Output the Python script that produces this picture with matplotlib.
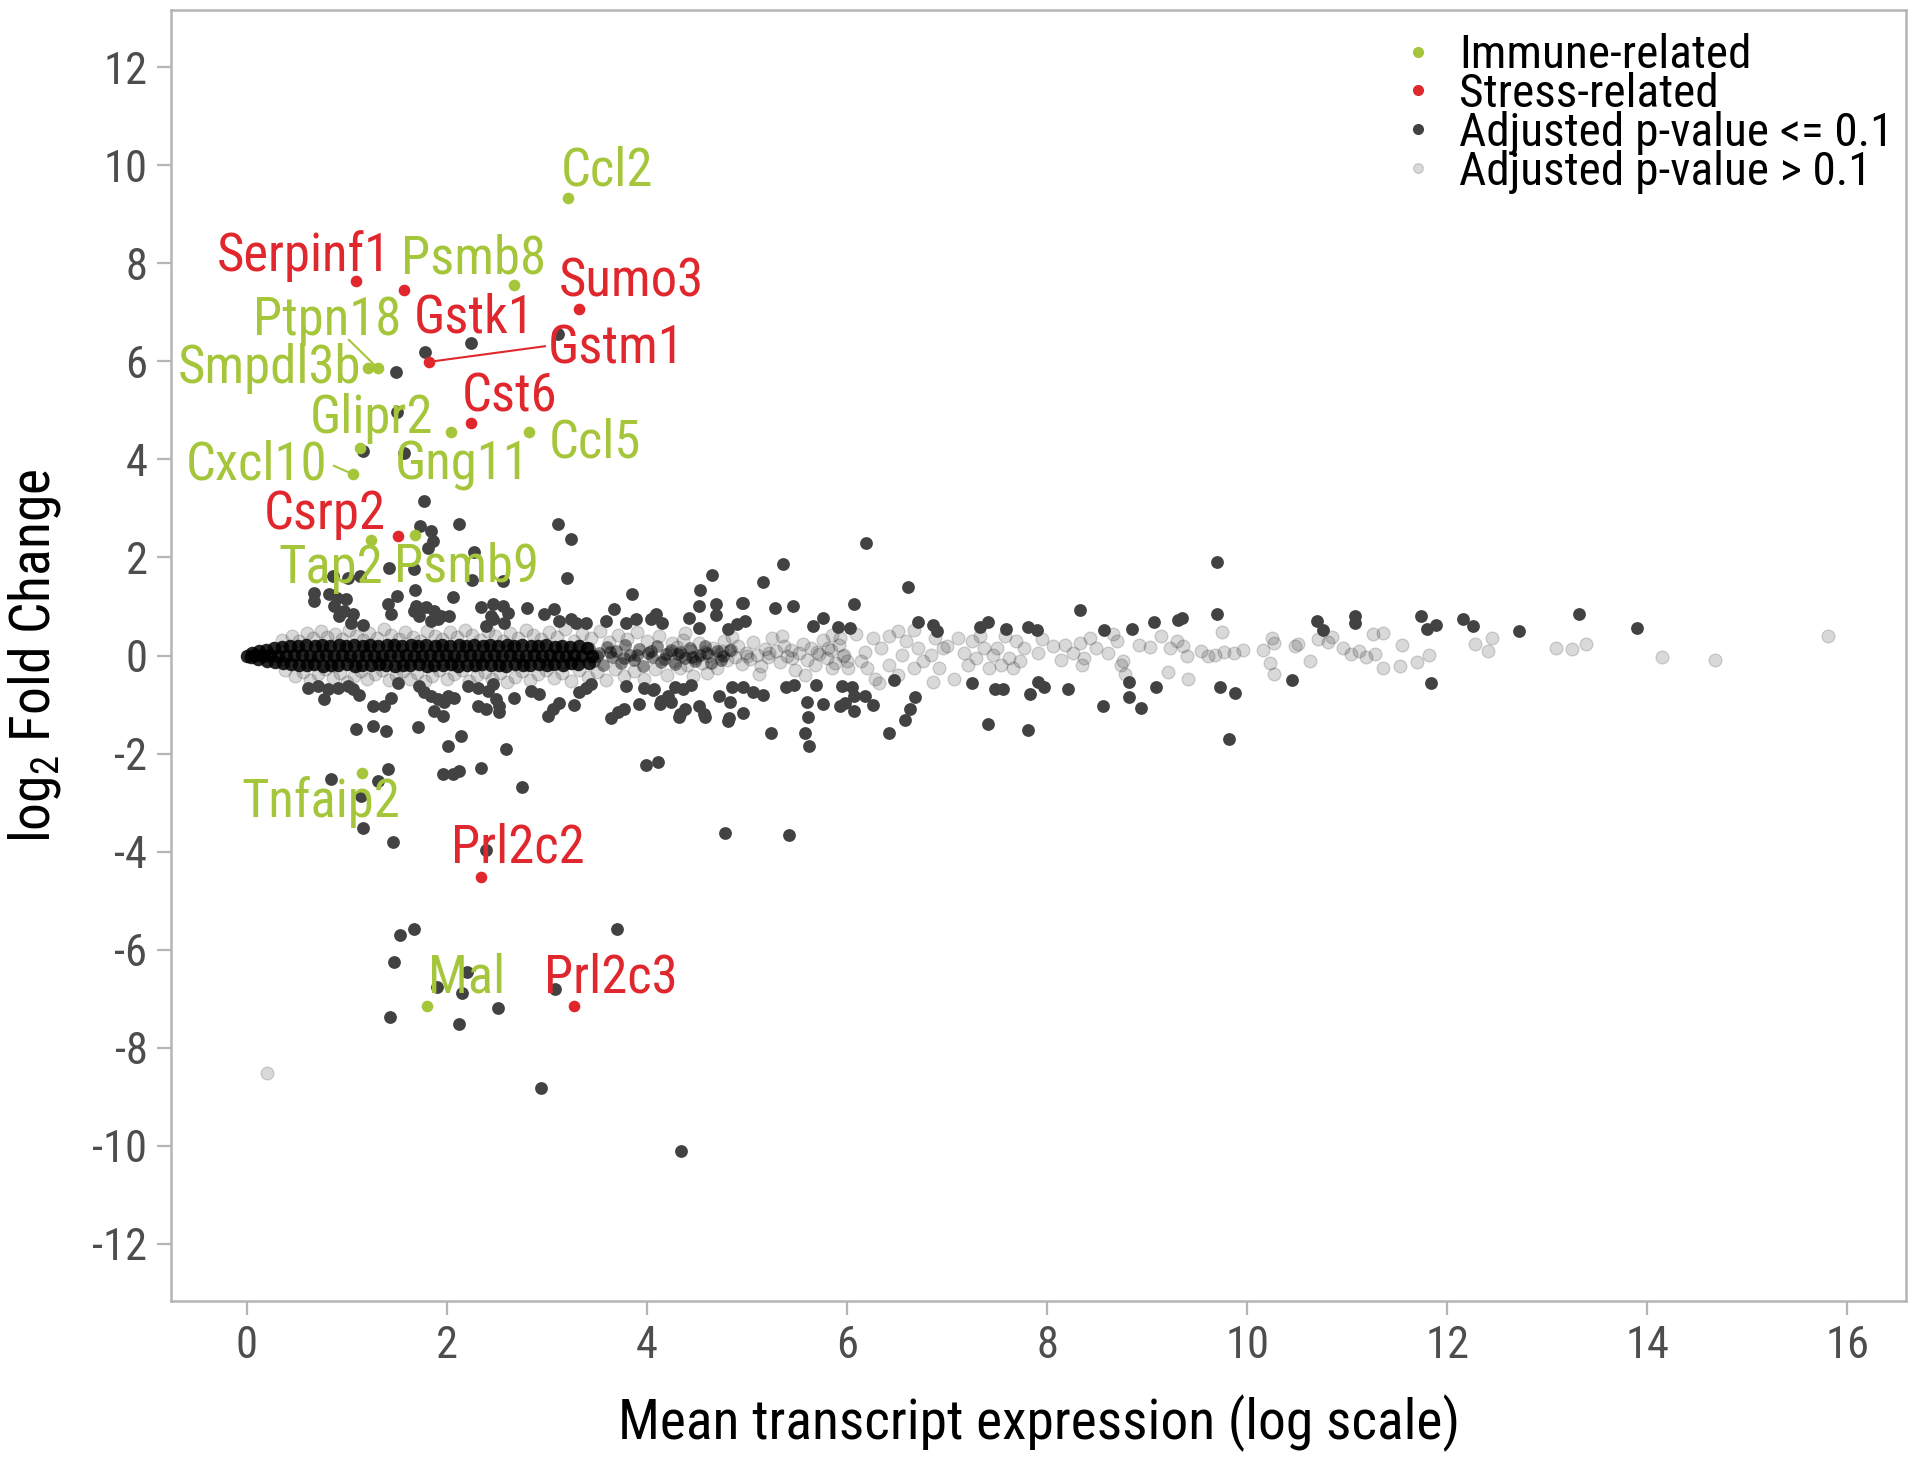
import matplotlib
matplotlib.use('Agg')
import matplotlib.pyplot as plt
from matplotlib import font_manager
from matplotlib.lines import Line2D

# pick a narrow sans face if one is installed
available = {f.name for f in font_manager.fontManager.ttflist}
font_name = 'DejaVu Sans'
for cand in ['Liberation Sans Narrow', 'Roboto Condensed', 'Open Sans Condensed']:
    if cand in available:
        font_name = cand
        break
plt.rcParams['font.family'] = [font_name, 'DejaVu Sans']
plt.rcParams['font.stretch'] = 'condensed'
plt.rcParams['mathtext.fontset'] = 'custom'
plt.rcParams['mathtext.rm'] = font_name
plt.rcParams['axes.unicode_minus'] = False

# ---- dense band of non-significant transcripts (x = mean log expression, y = log2 FC)
band_upper_x = [0.05, 0.12, 0.19, 0.27, 0.35, 0.43, 0.51, 0.59, 0.68, 0.75, 0.83, 0.92, 0.99, 1.07,
                1.16, 1.23, 1.31, 1.40, 1.47, 1.55, 1.64, 1.71, 1.79, 1.88, 1.95, 2.03, 2.12, 2.19,
                2.27, 2.36, 2.43, 2.51, 2.60, 2.67, 2.75, 2.84, 2.91, 2.99, 3.08, 3.15, 3.23, 3.32,
                3.40]
band_upper_y = [0.05, 0.09, 0.12, 0.15, 0.17, 0.19, 0.20, 0.21, 0.19, 0.22, 0.20, 0.21, 0.19, 0.22,
                0.20, 0.21, 0.19, 0.21, 0.22, 0.20, 0.21, 0.19, 0.22, 0.20, 0.21, 0.19, 0.22, 0.20,
                0.21, 0.19, 0.21, 0.20, 0.22, 0.19, 0.21, 0.20, 0.19, 0.21, 0.18, 0.20, 0.17, 0.19,
                0.16]
band_mid_x = [0.00, 0.08, 0.16, 0.23, 0.31, 0.39, 0.47, 0.55, 0.63, 0.71, 0.79, 0.87, 0.95, 1.03,
              1.11, 1.19, 1.27, 1.35, 1.43, 1.51, 1.59, 1.67, 1.75, 1.83, 1.91, 1.99, 2.07, 2.15,
              2.23, 2.31, 2.39, 2.47, 2.55, 2.63, 2.71, 2.79, 2.87, 2.95, 3.03, 3.11, 3.19, 3.27,
              3.35, 3.45]
band_mid_y = [0.00, 0.01, -0.01, 0.02, 0.00, -0.02, 0.01, 0.02, -0.01, 0.00, 0.02, -0.02, 0.01, 0.00,
              -0.01, 0.02, 0.00, -0.02, 0.01, 0.00, 0.02, -0.01, 0.00, 0.01, -0.02, 0.02, 0.00, -0.01,
              0.01, 0.00, -0.02, 0.02, 0.00, 0.01, -0.01, 0.00, 0.02, -0.02, 0.01, 0.00, -0.01, 0.02,
              0.00, -0.01]
band_lower_x = [0.04, 0.11, 0.20, 0.28, 0.36, 0.44, 0.52, 0.60, 0.67, 0.76, 0.84, 0.91, 1.00, 1.08,
                1.15, 1.24, 1.32, 1.39, 1.48, 1.56, 1.63, 1.72, 1.80, 1.87, 1.96, 2.04, 2.11, 2.20,
                2.28, 2.35, 2.44, 2.52, 2.59, 2.68, 2.76, 2.83, 2.92, 3.00, 3.07, 3.16, 3.24, 3.31,
                3.42]
band_lower_y = [-0.04, -0.08, -0.11, -0.14, -0.16, -0.18, -0.19, -0.20, -0.18, -0.21, -0.19, -0.20,
                -0.18, -0.21, -0.19, -0.20, -0.18, -0.20, -0.21, -0.19, -0.20, -0.18, -0.21, -0.19,
                -0.20, -0.18, -0.21, -0.19, -0.20, -0.18, -0.20, -0.19, -0.21, -0.18, -0.20, -0.19,
                -0.18, -0.20, -0.17, -0.19, -0.16, -0.18, -0.15]
# where the band thins out into single points
band_tail_x = [3.42, 3.47, 3.52, 3.56, 3.60, 3.65, 3.69, 3.74, 3.78, 3.83, 3.87, 3.92, 3.96, 4.01,
               4.05, 4.10, 4.14, 4.19, 4.24, 4.28, 4.33, 4.38, 4.43, 4.48, 4.53, 4.58, 4.64, 4.70,
               4.76, 4.83, 3.50, 3.63, 3.77, 3.90, 4.04, 4.17, 4.31, 4.45, 4.60, 4.74]
band_tail_y = [0.15, -0.12, 0.05, -0.20, 0.18, -0.03, 0.10, -0.16, 0.22, 0.02, -0.09, 0.14, -0.21,
               0.06, -0.04, 0.19, -0.13, 0.03, 0.12, -0.18, 0.08, -0.06, 0.16, -0.11, 0.02, 0.20,
               -0.15, 0.09, -0.02, 0.12, -0.02, 0.08, -0.05, 0.01, 0.10, -0.08, 0.04, -0.03, 0.06,
               -0.10]

# ---- scattered non-significant transcripts (adjusted p-value > 0.1)
ns_x = [0.35, 0.45, 0.52, 0.60, 0.66, 0.74, 0.80, 0.88, 0.95, 1.02, 1.09, 1.16, 1.22, 1.30, 1.37,
        1.44, 1.52, 1.58, 1.66, 1.73, 1.80, 1.88, 1.95, 2.03, 2.10, 2.18, 2.25, 2.33, 2.41, 2.48,
        2.56, 2.63, 2.71, 2.79, 2.86, 2.94, 3.02, 3.10, 3.18, 3.27, 3.35, 3.44, 3.53, 3.62, 3.71,
        3.80, 3.90, 4.00, 4.12, 4.25, 4.38,
        0.38, 0.48, 0.56, 0.63, 0.71, 0.78, 0.86, 0.93, 1.00, 1.07, 1.14, 1.20, 1.28, 1.35, 1.42,
        1.49, 1.56, 1.63, 1.70, 1.78, 1.85, 1.92, 2.00, 2.07, 2.15, 2.22, 2.30, 2.38, 2.45, 2.53,
        2.60, 2.68, 2.75, 2.83, 2.91, 2.99, 3.07, 3.15, 3.24, 3.32, 3.41, 3.50, 3.59, 3.68, 3.77,
        3.87, 3.97, 4.08, 4.20, 4.33, 4.46,
        4.22, 4.27, 4.30, 4.35, 4.40, 4.44, 4.48, 4.52, 4.55, 4.58, 4.62, 4.66, 4.70, 4.73, 4.77,
        4.80, 4.84, 4.88, 4.91, 4.95, 4.99, 5.03, 5.06, 5.10, 5.14, 5.18, 5.21, 5.25, 5.29, 5.33,
        5.37, 5.40, 5.44, 5.48, 5.52, 5.56, 5.60, 5.64, 5.68, 5.72, 5.76, 5.80, 5.84, 5.88, 5.92,
        5.96, 6.00, 4.36, 4.60, 4.85, 5.12, 5.35, 5.58, 5.85, 4.50, 4.75, 5.00, 5.22, 5.45, 5.70,
        6.09, 6.26, 6.34, 6.42, 6.51, 6.55, 6.59, 6.67, 6.71, 6.76, 6.84, 6.88, 6.92, 6.96, 7.00,
        7.07, 7.11, 7.17, 7.21, 7.25, 7.29, 7.33, 7.37, 7.42, 7.46, 7.50, 7.54, 7.58, 7.62, 7.66,
        7.69, 7.73, 6.14, 6.20, 6.28, 6.42, 6.51, 6.67, 6.86, 6.32, 5.93, 5.97, 5.85, 5.81, 6.01,
        6.18,
        7.77, 7.91, 7.95, 8.06, 8.14, 8.18, 8.26, 8.33, 8.35, 8.37, 8.43, 8.49, 8.61, 8.66, 8.70,
        8.74, 8.78, 8.76, 8.92, 9.03, 9.14, 9.21, 9.23, 9.30, 9.36, 9.40, 9.41, 9.54, 9.61, 9.68,
        9.75, 9.77, 9.87, 9.96, 10.16, 10.25, 10.27, 10.23, 10.27, 10.48,
        10.51, 10.63, 10.71, 10.81, 10.85, 10.96, 11.04, 11.12, 11.19, 11.28, 11.26, 11.36, 11.36,
        11.53, 11.55, 11.70, 11.82, 12.28, 12.41, 12.45, 13.09, 13.25, 13.39, 14.15, 14.68, 15.81,
        0.20]
ns_y = [0.32, 0.40, 0.30, 0.45, 0.35, 0.50, 0.38, 0.44, 0.33, 0.52, 0.40, 0.31, 0.46, 0.36, 0.55,
        0.42, 0.33, 0.48, 0.38, 0.30, 0.50, 0.40, 0.34, 0.47, 0.37, 0.53, 0.42, 0.32, 0.49, 0.39,
        0.30, 0.45, 0.36, 0.52, 0.41, 0.33, 0.47, 0.38, 0.55, 0.29, 0.44, 0.35, 0.50, 0.28, 0.42,
        0.33, 0.48, 0.30, 0.40, 0.26, 0.45,
        -0.30, -0.42, -0.33, -0.50, -0.38, -0.28, -0.46, -0.35, -0.55, -0.41, -0.31, -0.48, -0.37,
        -0.29, -0.50, -0.40, -0.32, -0.47, -0.36, -0.53, -0.42, -0.30, -0.48, -0.38, -0.29, -0.51,
        -0.40, -0.33, -0.47, -0.36, -0.54, -0.43, -0.31, -0.49, -0.37, -0.29, -0.46, -0.35, -0.52,
        -0.30, -0.44, -0.33, -0.49, -0.27, -0.41, -0.32, -0.47, -0.28, -0.39, -0.25, -0.42,
        0.05, -0.12, 0.18, 0.02, -0.20, 0.10, -0.05, 0.25, -0.15, 0.08, -0.02, 0.15, -0.25, 0.04,
        0.30, -0.10, 0.12, -0.03, 0.20, -0.18, 0.06, -0.08, 0.28, 0.01, -0.22, 0.14, -0.04, 0.35,
        0.09, -0.14, 0.20, -0.02, 0.11, -0.30, 0.05, 0.24, -0.09, 0.15, -0.20, 0.03, 0.31, -0.06,
        0.12, -0.16, 0.22, 0.00, -0.12, 0.32, -0.35, 0.38, -0.38, 0.40, -0.40, 0.42, 0.00, 0.10,
        -0.02, 0.06, -0.06, 0.08,
        0.43, 0.36, 0.15, 0.39, 0.50, 0.01, 0.29, 0.53, 0.15, -0.12, 0.01, 0.36, -0.26, 0.15, 0.19,
        -0.47, 0.36, 0.05, -0.19, 0.29, -0.06, 0.39, 0.15, -0.26, 0.01, 0.15, -0.19, 0.39, -0.06,
        -0.26, 0.29, -0.12, -0.12, -0.26, -0.47, -0.19, -0.40, -0.26, -0.54, -0.57, 0.36, 0.01,
        -0.26, 0.15, -0.26, 0.08,
        0.15, 0.05, 0.33, 0.19, -0.09, 0.21, 0.05, 0.26, -0.19, -0.06, 0.36, 0.15, 0.05, 0.43, 0.29,
        -0.19, -0.37, -0.12, 0.22, 0.17, 0.39, -0.33, 0.15, 0.29, 0.19, -0.02, -0.47, 0.10, -0.02,
        0.01, 0.48, 0.08, 0.05, 0.12, 0.12, 0.36, 0.25, -0.16, -0.37, 0.19,
        0.23, -0.11, 0.33, 0.28, 0.38, 0.16, 0.04, 0.09, -0.03, 0.04, 0.43, 0.45, -0.25, -0.21,
        0.21, -0.13, 0.01, 0.23, 0.09, 0.36, 0.16, 0.13, 0.23, -0.04, -0.09, 0.40,
        -8.52]

# ---- significant transcripts (adjusted p-value <= 0.1)
sig_x = [3.11, 2.24, 1.78, 1.49, 1.50, 1.16, 1.57, 1.77, 2.12, 3.11, 3.24, 3.20, 2.27,
         1.73, 1.84, 1.86, 1.81, 1.42, 1.67, 0.86, 1.01, 1.13, 2.25, 2.56, 0.67, 0.67,
         0.82, 0.90, 0.99, 0.87, 0.97, 1.06, 0.92, 1.04, 1.16, 1.41, 1.44, 1.50,
         1.68, 1.69, 1.79, 1.72, 1.87, 1.94, 2.02, 1.84, 1.91, 1.67, 2.06,
         2.34, 2.46, 2.56, 2.61, 2.44, 2.57, 2.46, 2.39, 2.80,
         2.97, 3.07, 3.12, 3.24, 3.29, 3.39, 3.59, 3.67, 3.79, 3.85, 3.89, 4.04, 4.09, 4.15,
         4.53, 4.65, 5.16, 5.36, 6.19, 6.61, 4.69, 4.96,
         4.52, 4.69, 4.95, 5.28, 5.46, 6.07, 4.08, 4.42, 4.52, 4.81, 4.90, 4.98, 5.66, 5.76,
         5.91, 6.03, 6.71, 6.86, 6.90, 7.33, 7.41, 7.59, 7.81, 7.90, 8.33, 8.57, 8.85, 9.07,
         9.31, 9.35, 9.70, 9.70,
         10.70, 10.76, 11.08, 11.08, 11.74, 11.80, 11.89, 12.16, 12.26, 12.72, 13.32, 13.90,
         10.45, 11.84,
         0.61, 0.71, 0.81, 0.91, 1.01, 1.06, 0.77, 1.12, 1.26, 1.37, 1.44, 1.51,
         1.72, 1.77, 1.84, 1.91, 1.97, 2.01, 2.07, 1.87, 1.96,
         2.21, 2.31, 2.41, 2.46, 2.49, 2.52, 2.31, 2.39, 2.52, 2.67, 2.84, 2.92,
         3.01, 3.06, 3.12, 3.27, 3.32, 3.39, 3.44,
         3.64, 3.71, 3.77, 3.79, 3.92, 3.97, 4.07, 4.14, 4.21,
         1.09, 1.26, 1.39, 1.71, 2.01, 2.14, 2.59, 1.96, 2.06, 2.12, 2.34, 2.75,
         3.99, 4.11, 0.84, 1.31, 1.41, 1.14, 1.16, 1.46, 4.78, 5.42, 2.39,
         5.24, 5.58, 5.62, 5.61,
         3.70, 1.53, 1.67, 1.47, 2.20, 1.90, 2.15, 3.08, 1.43, 2.12, 2.51, 2.94, 4.34,
         4.33, 4.57, 4.82, 4.96, 5.98, 6.07,
         4.06, 4.13, 4.24, 4.28, 4.36, 4.44, 4.32, 4.38, 4.52, 4.58, 4.72, 4.83, 4.81,
         4.85, 4.96, 5.06, 5.16, 5.39, 5.47, 5.60, 5.69, 5.76, 5.95, 6.05, 5.93, 6.07,
         6.18, 6.26, 6.47, 6.68, 6.63, 6.58, 6.42,
         7.25, 7.48, 7.56, 7.83, 7.91, 7.97, 8.21, 8.56, 8.82, 8.82, 8.94, 9.09, 9.73,
         9.88, 9.82, 7.41, 7.81]
sig_y = [6.55, 6.38, 6.20, 5.78, 4.96, 4.18, 4.14, 3.16, 2.69, 2.69, 2.38, 1.58, 2.11,
         2.64, 2.54, 2.33, 2.19, 1.79, 1.76, 1.62, 1.59, 1.62, 1.54, 1.51, 1.28, 1.11,
         1.25, 1.18, 1.15, 1.01, 0.91, 0.84, 0.81, 0.67, 0.62, 1.05, 0.84, 1.21,
         1.33, 1.01, 0.98, 0.81, 0.91, 0.81, 0.81, 0.70, 0.74, 0.91, 1.20,
         0.98, 1.05, 1.01, 0.87, 0.81, 0.67, 0.74, 0.60, 0.96,
         0.84, 0.94, 0.70, 0.74, 0.67, 0.67, 0.70, 0.94, 0.67, 1.25, 0.74, 0.74, 0.84, 0.67,
         1.33, 1.65, 1.50, 1.87, 2.29, 1.40, 1.05, 1.08,
         1.02, 0.82, 1.07, 0.97, 1.02, 1.05, 0.81, 0.77, 0.57, 0.55, 0.64, 0.70, 0.60, 0.77,
         0.58, 0.57, 0.69, 0.62, 0.50, 0.58, 0.69, 0.55, 0.58, 0.53, 0.93, 0.53, 0.55, 0.69,
         0.72, 0.77, 0.84, 1.91,
         0.70, 0.52, 0.80, 0.66, 0.80, 0.55, 0.62, 0.74, 0.60, 0.51, 0.85, 0.56,
         -0.50, -0.57,
         -0.66, -0.62, -0.69, -0.66, -0.62, -0.69, -0.89, -0.81, -1.03, -1.03, -0.86, -0.57,
         -0.62, -0.75, -0.82, -0.89, -0.95, -0.82, -0.86, -1.13, -1.23,
         -0.62, -0.66, -0.72, -0.59, -0.89, -1.03, -1.03, -1.10, -1.16, -0.86, -0.72, -0.79,
         -1.23, -1.10, -0.96, -1.01, -0.75, -0.66, -0.59,
         -1.27, -1.16, -1.10, -0.62, -0.99, -0.66, -0.69, -0.93, -0.82,
         -1.50, -1.44, -1.54, -1.45, -1.84, -1.65, -1.91, -2.42, -2.42, -2.35, -2.30, -2.69,
         -2.24, -2.18, -2.52, -2.56, -2.32, -2.86, -3.51, -3.81, -3.62, -3.67, -3.97,
         -1.58, -1.58, -1.84, -1.26,
         -5.57, -5.70, -5.57, -6.26, -6.45, -6.76, -6.88, -6.80, -7.38, -7.52, -7.20, -8.82, -10.11,
         -1.20, -1.20, -1.27, -1.17, -0.96, -1.13,
         -0.71, -0.99, -0.95, -0.64, -0.68, -0.61, -1.26, -1.09, -1.02, -1.25, -0.82, -0.95, -1.33,
         -0.64, -0.64, -0.75, -0.80, -0.64, -0.61, -0.94, -0.61, -0.99, -0.62, -0.64, -1.02, -0.82,
         -0.82, -1.01, -0.50, -0.85, -1.09, -1.31, -1.59,
         -0.57, -0.69, -0.69, -0.78, -0.54, -0.64, -0.69, -1.04, -0.55, -0.85, -1.08, -0.64, -0.64,
         -0.76, -1.71, -1.40, -1.51]

# ---- highlighted genes
immune_genes = ['Ccl2', 'Psmb8', 'Smpdl3b', 'Ptpn18', 'Glipr2', 'Ccl5', 'Cxcl10', 'Gng11',
                'Tap2', 'Psmb9', 'Tnfaip2', 'Mal']
immune_x = [3.21, 2.67, 1.21, 1.31, 2.04, 2.82, 1.06, 1.13, 1.24, 1.68, 1.15, 1.80]
immune_y = [9.34, 7.55, 5.86, 5.86, 4.55, 4.57, 3.70, 4.24, 2.35, 2.45, -2.40, -7.16]

stress_genes = ['Serpinf1', 'Gstk1', 'Sumo3', 'Gstm1', 'Cst6', 'Csrp2', 'Prl2c2', 'Prl2c3']
stress_x = [1.09, 1.57, 3.32, 1.82, 2.24, 1.51, 2.34, 3.27]
stress_y = [7.64, 7.45, 7.07, 5.99, 4.74, 2.44, -4.52, -7.15]

# label anchor (centre x, baseline y) for each gene, same order as above
immune_label_xy = [(3.60, 9.59), (2.27, 7.80), (0.23, 5.55), (0.80, 6.53), (1.25, 4.53),
                   (3.48, 4.03), (0.10, 3.59), (2.15, 3.59), (0.84, 1.47), (2.20, 1.52),
                   (0.74, -3.29), (2.20, -6.87)]
stress_label_xy = [(0.57, 7.85), (2.27, 6.58), (3.84, 7.32), (3.69, 5.95), (2.63, 4.98),
                   (0.78, 2.59), (2.71, -4.23), (3.64, -6.87)]
# genes whose label is tied to the point by a short segment: (gene, label end)
leader_lines = {'Ptpn18': (1.02, 6.44), 'Cxcl10': (0.87, 3.87), 'Gstm1': (2.98, 6.31)}

GREEN = '#a5c63b'
RED = '#e0272d'
DARK = '#424242'

fig = plt.figure(figsize=(19.16, 14.65), dpi=100)
ax = fig.add_axes([0.0893, 0.1119, 0.9055, 0.8813])

for bx, by in [(band_upper_x, band_upper_y), (band_mid_x, band_mid_y), (band_lower_x, band_lower_y)]:
    ax.scatter(bx, by, s=95, color='black', alpha=0.85, linewidths=0, zorder=2)
ax.scatter(band_tail_x, band_tail_y, s=85, color='black', alpha=0.45, linewidths=0, zorder=2)
ax.scatter(ns_x, ns_y, s=85, facecolor='black', edgecolor='black', linewidths=1.0,
           alpha=0.15, zorder=2)
ax.scatter(sig_x, sig_y, s=85, color=DARK, linewidths=0, zorder=3)
ax.scatter(immune_x, immune_y, s=70, color=GREEN, linewidths=0, zorder=4)
ax.scatter(stress_x, stress_y, s=70, color=RED, linewidths=0, zorder=4)

label_size = 38
for genes, xs, ys, pos, col in [(immune_genes, immune_x, immune_y, immune_label_xy, GREEN),
                                (stress_genes, stress_x, stress_y, stress_label_xy, RED)]:
    for g, px, py, (lx, ly) in zip(genes, xs, ys, pos):
        ax.text(lx, ly, g, color=col, fontsize=label_size, ha='center', va='baseline', zorder=5)
        if g in leader_lines:
            ex, ey = leader_lines[g]
            ax.plot([px, ex], [py, ey], color=col, linewidth=1.5, zorder=4)

ax.set_xlim(-0.757, 16.586)
ax.set_ylim(-13.17, 13.17)
ax.set_xticks(list(range(0, 17, 2)))
ax.set_yticks(list(range(-12, 13, 2)))
for sp in ax.spines.values():
    sp.set_color('#b5b5b5')
    sp.set_linewidth(1.8)
ax.tick_params(axis='both', colors='#b5b5b5', labelcolor='#4d4d4d', labelsize=32,
               length=10, width=1.6, pad=7)

ax.set_xlabel('Mean transcript expression (log scale)', fontsize=40, labelpad=20)
ax.set_ylabel(r'log$_2$ Fold Change', fontsize=40, labelpad=21)

handles = [Line2D([], [], marker='o', linestyle='none', color=GREEN, markersize=7),
           Line2D([], [], marker='o', linestyle='none', color=RED, markersize=7),
           Line2D([], [], marker='o', linestyle='none', color=DARK, markersize=7),
           Line2D([], [], marker='o', linestyle='none', color='black', alpha=0.15, markersize=7)]
labels = ['Immune-related', 'Stress-related', 'Adjusted p-value <= 0.1', 'Adjusted p-value > 0.1']
ax.legend(handles, labels, loc='upper left', bbox_to_anchor=(0.708, 0.982), frameon=False,
          fontsize=34, handlelength=0.8, handletextpad=0.47, labelspacing=-0.11,
          borderpad=0, borderaxespad=0)

fig.savefig('out.png', dpi=100)
